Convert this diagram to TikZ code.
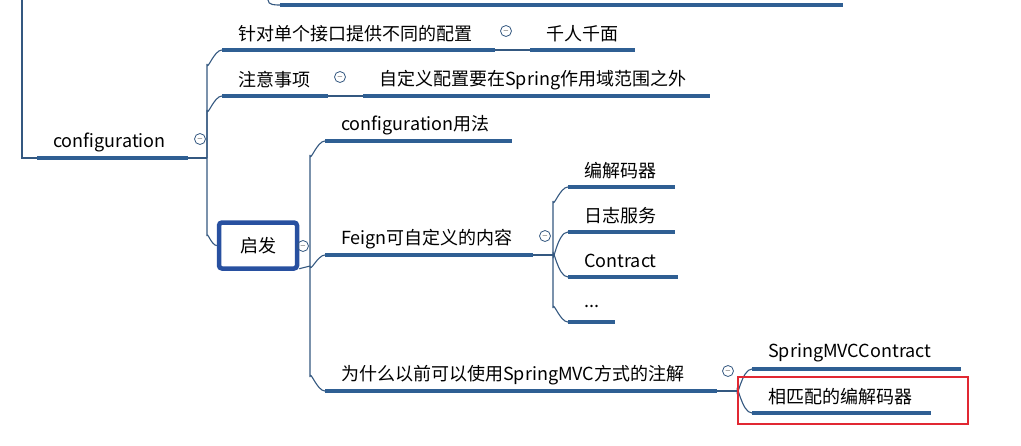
\documentclass[tikz,border=0pt]{standalone}
\usepackage{fontspec}
\setmainfont{Noto Sans CJK SC}
\begin{document}
\begin{tikzpicture}[x=1pt,y=-1pt,
  ul/.style={line width=3.6pt,draw={rgb,255:red,47;green,95;blue,147}},
  br/.style={line width=1.1pt,draw={rgb,255:red,52;green,88;blue,128}},
  lbl/.style={anchor=west,inner sep=0pt,font=\fontsize{18}{20}\selectfont},
  cc/.style={circle,draw={rgb,255:red,52;green,88;blue,128},line width=0.8pt,minimum size=11pt,inner sep=0pt,font=\fontsize{7}{7}\selectfont}]
\useasboundingbox (0,0) rectangle (1021,445);
\newcommand\leaf[5]{%
  \coordinate (#1a) at (#2,#4); \coordinate (#1b) at (#3,#4);
  \draw[ul] (#1a) -- (#1b);
  \node[lbl] (#1t) at (#2+16,#4-16) {#5};}
% top remnant
\coordinate (topa) at (268,0); \coordinate (topb) at (280,5); \coordinate (topc) at (843,5);
\draw[br] (topa) to[out=-90,in=180] (topb);
\draw[ul] (topb) -- (topc);
% configuration
\coordinate (lv) at (22,0); \coordinate (lh) at (22,158);
\leaf{cf}{37}{188}{158}{configuration}
\draw[br] (lv) -- (lh) -- (cfa);
\node[cc] (cfc) at (200,139) {$-$};
\coordinate (tr1) at (207,158);
\draw[br] (cfb) -- (tr1);
\leaf{a}{222}{495}{50}{针对单个接口提供不同的配置}
\leaf{b}{222}{328}{96}{注意事项}
\node[cc] (ac) at (506,31) {$-$};
\node[cc] (bc) at (340,77) {$-$};
\leaf{a2}{530}{635}{50}{千人千面}
\leaf{b2}{363}{710}{96}{自定义配置要在Spring作用域范围之外}
\draw[br] (ab) -- (a2a);
\draw[br] (bb) -- (b2a);
\draw[br] (tr1) -- (207,64) to[out=-90,in=180] (aa);
\draw[br] (tr1) -- (207,110) to[out=-90,in=180] (ba);
% 启发
\node[draw={rgb,255:red,40;green,80;blue,160},line width=4.5pt,rounded corners=3pt,minimum width=78pt,minimum height=46pt,font=\fontsize{18}{20}\selectfont,inner sep=0pt] (qf) at (258,245.5) {\raisebox{-4pt}{启发}};
\draw[br] (tr1) -- (207,236) to[out=90,in=180] (qf.west);
\node[cc] (qc) at (303,246) {$-$};
\coordinate (tr2) at (310,266);
\draw[br] (qf.south east) ++(0,-2) -- (tr2);
\leaf{c}{325}{512}{141}{configuration用法}
\leaf{d}{325}{533}{255}{Feign可自定义的内容}
\leaf{e}{325}{717}{391}{为什么以前可以使用SpringMVC方式的注解}
\draw[br] (tr2) -- (310,155) to[out=-90,in=180] (ca);
\draw[br] (tr2) to[out=-90,in=180] (da);
\draw[br] (tr2) -- (310,377) to[out=90,in=180] (ea);
\node[cc] (dc) at (545,236) {$-$};
\coordinate (tr3) at (553,255);
\draw[br] (db) -- (tr3);
\leaf{f}{568}{675}{187}{编解码器}
\leaf{g}{568}{675}{232}{日志服务}
\leaf{h}{568}{678}{277}{Contract}
\leaf{i}{568}{615}{322}{...}
\draw[br] (tr3) -- (553,201) to[out=-90,in=180] (fa);
\draw[br] (tr3) to[out=-90,in=180] (ga);
\draw[br] (tr3) to[out=90,in=180] (ha);
\draw[br] (tr3) -- (553,308) to[out=90,in=180] (ia);
\node[cc] (ec) at (728,371) {$-$};
\coordinate (tr4) at (737,391);
\draw[br] (eb) -- (tr4);
\leaf{j}{752}{961}{369}{SpringMVCContract}
\leaf{k}{752}{931}{413}{相匹配的编解码器}
\draw[br] (tr4) to[out=-90,in=180] (ja);
\draw[br] (tr4) to[out=90,in=180] (ka);
\node[draw={rgb,255:red,225;green,40;blue,50},line width=2pt,minimum width=230pt,minimum height=47pt,inner sep=0pt] (red) at (853,400.5) {};
\end{tikzpicture}
\end{document}
